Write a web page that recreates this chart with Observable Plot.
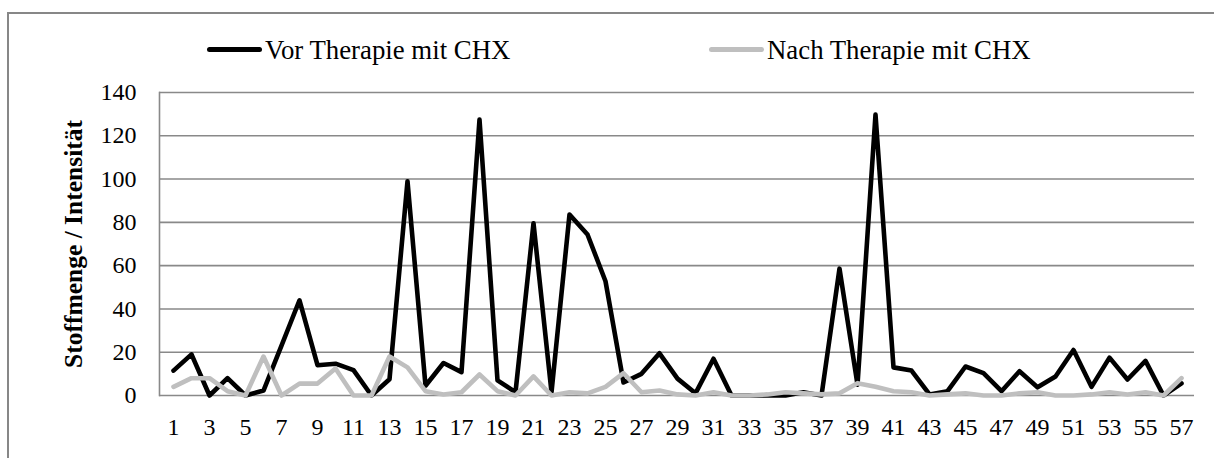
<!DOCTYPE html>
<html>
<head>
<meta charset="utf-8">
<script src="https://cdn.jsdelivr.net/npm/d3@7"></script>
<script src="https://cdn.jsdelivr.net/npm/@observablehq/plot@0.6"></script>
<style>
  html, body { margin: 0; padding: 0; background: #fff; }
  body { width: 1214px; height: 458px; overflow: hidden; position: relative; font-family: "Liberation Serif", "Times New Roman", serif; }
  #frame { position: absolute; left: 7px; top: 12px; width: 1220px; height: 460px; border-top: 2px solid #878787; border-left: 2px solid #878787; box-sizing: border-box; }
  #legend { position: relative; height: 75px; width: 1214px; }
  .sw { position: absolute; top: 47px; width: 55px; height: 5px; border-radius: 3px; }
  .lt { position: absolute; top: 35px; font-size: 26.8px; line-height: 30px; color: #000; white-space: nowrap; }
  #chart { position: relative; }
  #chart svg text { font-family: "Liberation Serif", "Times New Roman", serif; }
  #ytitle { position: absolute; left: 74px; top: 244px; transform: translate(-50%, -50%) rotate(-90deg); font-size: 25.5px; font-weight: bold; white-space: nowrap; color: #000; z-index: 2; }
</style>
</head>
<body>
<div id="frame"></div>
<div id="legend"></div>
<div id="chart"></div>
<div id="ytitle"></div>
<script>
const categories = [1,2,3,4,5,6,7,8,9,10,11,12,13,14,15,16,17,18,19,20,21,22,23,24,25,26,27,28,29,30,31,32,33,34,35,36,37,38,39,40,41,42,43,44,45,46,47,48,49,50,51,52,53,54,55,56,57];
const vorValues = [11.5,19,0,8,0,2.3,23,44,14,14.7,11.7,0,7.5,99,4.5,15,10.8,127.5,7,1.5,79.6,1.5,83.6,74.4,52.8,6,10,19.5,7.8,1,17,0,0,0,0,1.5,0,58.6,5,129.8,13,11.5,0.5,2,13.4,10.3,2,11.2,3.8,8.8,21,4,17.5,7.4,16,0,5.6];
const nachValues = [4,8,8,2,0,18,0,5.5,5.5,12.5,0,0,18,13,2,0.5,1.5,9.7,2,0,8.8,0,1.5,1,4,10.3,1.5,2.3,0.5,0,1.5,0,0,0.5,1.5,1,0.5,1,5.7,4,2,1.5,0,0.5,1,0,0,1,1.5,0,0,0.5,1.5,0.5,1.5,0,8];
const seriesNames = ["Vor Therapie mit CHX", "Nach Therapie mit CHX"];
const seriesColors = ["#000000", "#bfbfbf"];
const xTickLabels = [1,3,5,7,9,11,13,15,17,19,21,23,25,27,29,31,33,35,37,39,41,43,45,47,49,51,53,55,57];
const yTickLabels = [0,20,40,60,80,100,120,140];
const yTitle = "Stoffmenge / Intensität";
const serif = "'Liberation Serif', 'Times New Roman', serif";

// legend
const legend = document.getElementById("legend");
const legendPos = [{sw: 207, tx: 265}, {sw: 709, tx: 767}];
seriesNames.forEach((name, i) => {
  const s = document.createElement("div");
  s.className = "sw";
  s.style.left = legendPos[i].sw + "px";
  s.style.background = seriesColors[i];
  legend.appendChild(s);
  const t = document.createElement("div");
  t.className = "lt";
  t.style.left = legendPos[i].tx + "px";
  t.textContent = name;
  legend.appendChild(t);
});
document.getElementById("ytitle").textContent = yTitle;

const vorData = categories.map((c, i) => ({c, v: vorValues[i]}));
const nachData = categories.map((c, i) => ({c, v: nachValues[i]}));

const chart = Plot.plot({
  width: 1214,
  height: 383,
  marginTop: 17,
  marginBottom: 63,
  marginLeft: 159,
  marginRight: 20,
  style: {fontFamily: serif, fontSize: "24px", color: "#000", background: "transparent", overflow: "visible"},
  x: {type: "point", domain: categories, padding: 0.5},
  y: {domain: [0, 140]},
  marks: [
    Plot.gridY(yTickLabels, {stroke: "#898989", strokeOpacity: 1, strokeWidth: 1.6}),
    Plot.frame({anchor: "left", stroke: "#898989", strokeWidth: 1.6}),
    Plot.line(vorData, {x: "c", y: "v", stroke: seriesColors[0], strokeWidth: 4.6, strokeLinejoin: "round", strokeLinecap: "round"}),
    Plot.line(nachData, {x: "c", y: "v", stroke: seriesColors[1], strokeWidth: 4.6, strokeLinejoin: "round", strokeLinecap: "round"}),
    Plot.axisX({ticks: xTickLabels, tickSize: 0, tickPadding: 22, label: null, fontSize: 24, fontFamily: serif}),
    Plot.axisY({ticks: yTickLabels, tickSize: 0, tickPadding: 23, label: null, fontSize: 24, fontFamily: serif})
  ]
});
document.getElementById("chart").appendChild(chart);
</script>
</body>
</html>
